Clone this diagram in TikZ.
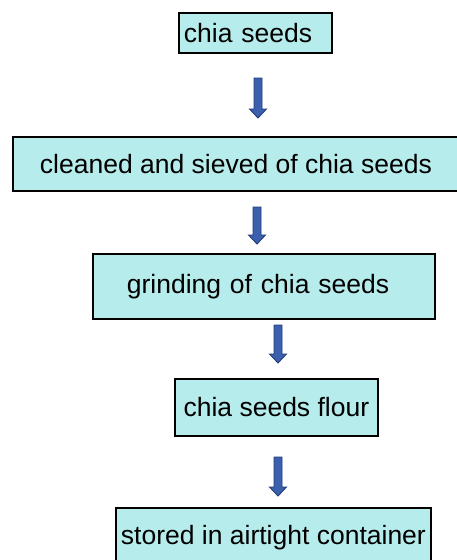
\documentclass[tikz,border=0pt]{standalone}
\usepackage{fontspec}
\setmainfont{Liberation Sans}
\usetikzlibrary{calc}
\definecolor{boxcyan}{RGB}{182,236,235}
\definecolor{arrowblue}{RGB}{58,96,174}
\definecolor{arrowedge}{RGB}{36,60,120}

\begin{document}
\begin{tikzpicture}[x=1pt, y=-1pt,
		stepbox/.style={draw, line width=1.8pt, fill=boxcyan, anchor=north west,
			inner sep=0pt, font=\fontsize{26.5}{30}\selectfont},
		blockarrow/.style={fill=arrowblue, draw=arrowedge, line width=0.9pt}]
		\useasboundingbox (0,0) rectangle (456,560);

		% Process steps
		\node[stepbox, minimum height=40, inner xsep=5pt, text width=143pt, align=left] (seeds) at (178,12) {chia seeds};
		\node[stepbox, minimum width=446, minimum height=54] (cleaned) at (12,136) {cleaned and sieved of chia seeds};
		\node[stepbox, minimum height=65, inner xsep=34pt, text width=274pt, align=left] (grinding) at (92,253) {grinding of chia seeds};
		\node[stepbox, minimum width=203, minimum height=57] (flour) at (174,378) {chia seeds flour};
		\node[stepbox, minimum width=315, minimum height=60] (stored) at (115,507) {stored in airtight container};

		% Macro for a block arrow pointing down.
		% Usage: \flowarrow{top}{tip}
		\newcommand{\flowarrow}[2]{
			\filldraw[blockarrow] ($(#1)+(-4,0)$) -- ($(#1)+(4,0)$) -- ($(#2)+(4,-9)$) -- ($(#2)+(8.5,-9)$)
				-- (#2) -- ($(#2)+(-8.5,-9)$) -- ($(#2)+(-4,-9)$) -- cycle;
		}

		% Arrow ends
		\coordinate (a1top) at (258,78);  \coordinate (a1tip) at (258,118);
		\coordinate (a2top) at (257,207); \coordinate (a2tip) at (257,244);
		\coordinate (a3top) at (278,325); \coordinate (a3tip) at (278,363);
		\coordinate (a4top) at (278,457); \coordinate (a4tip) at (278,496);

		\flowarrow{a1top}{a1tip};
		\flowarrow{a2top}{a2tip};
		\flowarrow{a3top}{a3tip};
		\flowarrow{a4top}{a4tip};
	\end{tikzpicture}
\end{document}
